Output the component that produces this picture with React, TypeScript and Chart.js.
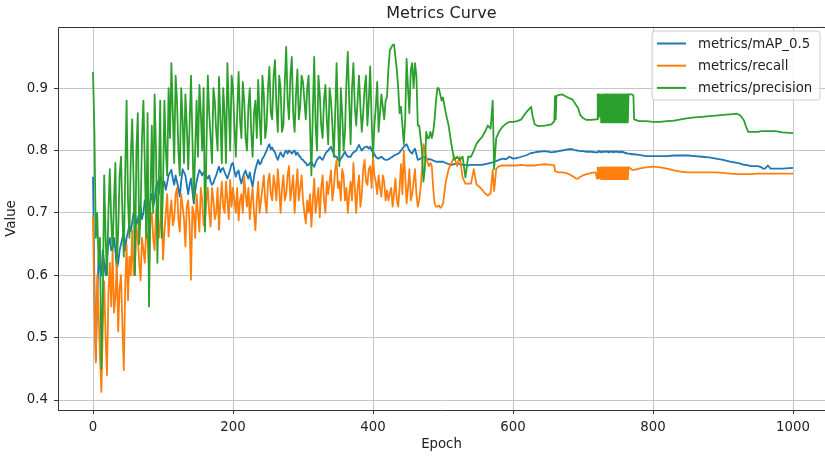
import React, { useEffect, useRef } from "react";
import { Chart, registerables } from "chart.js";

Chart.register(...registerables);

const TITLE = "Metrics Curve";
const X_LABEL = "Epoch";
const Y_LABEL = "Value";
const SERIES_NAMES = ["metrics/mAP_0.5", "metrics/recall", "metrics/precision"];
const COLORS = ["#1f77b4", "#ff7f0e", "#2ca02c"];
const X_TICKS = [0, 200, 400, 600, 800, 1000];
const Y_TICKS = [0.4, 0.5, 0.6, 0.7, 0.8, 0.9];

// Noisy phase: values at epochs 0,4,8,...,496 ("even") and 2,6,10,...,498 ("mid")
const NOISY_STEPS = 125;

const lateEpochs = [
  500, 504, 508, 512, 516, 520, 524, 528, 532, 536,
  540, 544, 548, 552, 556, 560, 564, 568, 571, 573,
  576, 580, 585, 590, 595, 600, 606, 612, 618, 622,
  626, 628, 631, 636, 646, 655, 659, 660, 661, 662,
  665, 670, 675, 680, 685, 690, 693, 696, 700, 705,
  712, 718,
];
const bandEpochs = [
  720, 721, 722, 723, 724, 725, 726, 727, 728, 729,
  730, 731, 732, 733, 734, 735, 736, 737, 738, 739,
  740, 741, 742, 743, 744, 745, 746, 747, 748, 749,
  750, 751, 752, 753, 754, 755, 756, 757, 758, 759,
  760, 761, 762, 763, 764, 765,
];
const tailEpochs = [
  766, 770, 772, 773, 780, 790, 800, 810, 820, 830,
  840, 850, 860, 870, 880, 890, 900, 910, 920, 925,
  930, 933, 936, 940, 950, 955, 957, 960, 964, 968,
  975, 985, 1000,
];

// ---------- metrics/mAP_0.5 ----------
const mapEven = [
  0.758, 0.464, 0.63, 0.6, 0.62, 0.63, 0.66, 0.645, 0.64, 0.62, 0.65, 0.67, 0.66, 0.68, 0.685, 0.7, 0.69, 0.71, 0.7, 0.72, 0.7, 0.73, 0.72, 0.75, 0.758,
  0.742, 0.737, 0.76, 0.769, 0.745, 0.75, 0.726, 0.77, 0.76, 0.73, 0.755, 0.715, 0.75, 0.769, 0.76, 0.765, 0.755, 0.75, 0.748, 0.76, 0.774, 0.77, 0.765, 0.755, 0.77,
  0.78, 0.758, 0.768, 0.747, 0.763, 0.76, 0.765, 0.742, 0.77, 0.785, 0.78, 0.79, 0.8, 0.81, 0.805, 0.797, 0.785, 0.797, 0.79, 0.8, 0.8, 0.795, 0.8, 0.797, 0.79,
  0.785, 0.78, 0.777, 0.782, 0.774, 0.785, 0.79, 0.785, 0.795, 0.8, 0.806, 0.795, 0.79, 0.783, 0.79, 0.798, 0.79, 0.79, 0.797, 0.8, 0.809, 0.8, 0.805, 0.806, 0.806,
  0.798, 0.79, 0.787, 0.79, 0.786, 0.785, 0.787, 0.79, 0.793, 0.795, 0.8, 0.806, 0.81, 0.8, 0.795, 0.803, 0.785, 0.787, 0.79, 0.787, 0.786, 0.785, 0.783, 0.782, 0.782,
];
const mapMid = [
  0.59, 0.56, 0.61, 0.64, 0.6, 0.65, 0.64, 0.66, 0.61, 0.64, 0.66, 0.64, 0.67, 0.67, 0.7, 0.68, 0.7, 0.69, 0.72, 0.7, 0.72, 0.71, 0.74, 0.73, 0.75,
  0.75, 0.748, 0.765, 0.755, 0.76, 0.74, 0.75, 0.765, 0.745, 0.745, 0.735, 0.735, 0.76, 0.765, 0.765, 0.758, 0.76, 0.745, 0.755, 0.768, 0.765, 0.772, 0.76, 0.762, 0.778,
  0.768, 0.765, 0.755, 0.757, 0.768, 0.755, 0.752, 0.758, 0.778, 0.778, 0.787, 0.795, 0.806, 0.802, 0.8, 0.79, 0.792, 0.792, 0.797, 0.795, 0.798, 0.798, 0.793, 0.792, 0.786,
  0.782, 0.776, 0.78, 0.777, 0.78, 0.788, 0.787, 0.79, 0.798, 0.803, 0.8, 0.79, 0.786, 0.787, 0.794, 0.793, 0.79, 0.794, 0.798, 0.805, 0.804, 0.803, 0.806, 0.803, 0.8,
  0.794, 0.788, 0.789, 0.788, 0.785, 0.786, 0.789, 0.792, 0.794, 0.797, 0.803, 0.808, 0.805, 0.797, 0.8, 0.794, 0.786, 0.789, 0.789, 0.786, 0.786, 0.784, 0.782, 0.782, 0.782,
];
const mapLate = [
  0.782, 0.78, 0.778, 0.777, 0.778, 0.779, 0.778, 0.777, 0.777, 0.776,
  0.777, 0.777, 0.777, 0.777, 0.777, 0.778, 0.779, 0.78, 0.781, 0.782,
  0.783, 0.785, 0.787, 0.786, 0.79, 0.787, 0.788, 0.79, 0.792, 0.794,
  0.796, 0.796, 0.797, 0.798, 0.799, 0.797, 0.798, 0.798, 0.798, 0.798,
  0.799, 0.8, 0.801, 0.802, 0.802, 0.8, 0.8, 0.799, 0.799, 0.798,
  0.798, 0.797,
];
const mapBand = [
  0.797, 0.798, 0.798, 0.799, 0.798, 0.798, 0.797, 0.798, 0.798, 0.799,
  0.798, 0.798, 0.798, 0.799, 0.798, 0.798, 0.798, 0.797, 0.798, 0.798,
  0.798, 0.799, 0.798, 0.798, 0.797, 0.798, 0.798, 0.799, 0.798, 0.798,
  0.798, 0.797, 0.798, 0.798, 0.797, 0.798, 0.798, 0.797, 0.797, 0.797,
  0.796, 0.796, 0.796, 0.795, 0.795, 0.795,
];
const mapTail = [
  0.795, 0.794, 0.794, 0.794, 0.793, 0.791, 0.791, 0.791, 0.791, 0.792,
  0.792, 0.792, 0.791, 0.79, 0.789, 0.787, 0.785, 0.782, 0.78, 0.779,
  0.777, 0.777, 0.776, 0.775, 0.775, 0.773, 0.771, 0.771, 0.776, 0.771,
  0.771, 0.771, 0.772,
];

// ---------- metrics/recall ----------
const recallEven = [
  0.694, 0.46, 0.54, 0.413, 0.59, 0.44, 0.62, 0.64, 0.565, 0.51, 0.6, 0.448, 0.65, 0.63, 0.672, 0.62, 0.66, 0.592, 0.64, 0.672, 0.61, 0.7, 0.64, 0.72, 0.68,
  0.625, 0.7, 0.662, 0.72, 0.69, 0.74, 0.67, 0.71, 0.646, 0.72, 0.593, 0.7, 0.73, 0.67, 0.72, 0.69, 0.74, 0.678, 0.72, 0.7, 0.673, 0.75, 0.7, 0.72, 0.753,
  0.74, 0.7, 0.688, 0.73, 0.758, 0.71, 0.69, 0.74, 0.672, 0.75, 0.72, 0.76, 0.7, 0.763, 0.72, 0.745, 0.77, 0.7, 0.76, 0.73, 0.775, 0.74, 0.7, 0.77, 0.74,
  0.72, 0.683, 0.7, 0.678, 0.755, 0.72, 0.693, 0.76, 0.7, 0.73, 0.768, 0.74, 0.785, 0.75, 0.77, 0.72, 0.7, 0.75, 0.78, 0.7, 0.76, 0.73, 0.785, 0.745, 0.775,
  0.79, 0.75, 0.76, 0.726, 0.75, 0.736, 0.731, 0.71, 0.755, 0.71, 0.778, 0.8, 0.715, 0.77, 0.73, 0.77, 0.71, 0.74, 0.81, 0.79, 0.775, 0.775, 0.715, 0.71, 0.708,
];
const recallMid = [
  0.55, 0.6, 0.47, 0.52, 0.5, 0.57, 0.55, 0.54, 0.62, 0.58, 0.52, 0.58, 0.56, 0.6, 0.6, 0.68, 0.62, 0.66, 0.62, 0.66, 0.69, 0.66, 0.7, 0.66, 0.73,
  0.67, 0.73, 0.7, 0.68, 0.73, 0.69, 0.73, 0.69, 0.71, 0.68, 0.71, 0.66, 0.7, 0.74, 0.68, 0.72, 0.7, 0.74, 0.69, 0.74, 0.72, 0.71, 0.75, 0.69, 0.71,
  0.72, 0.74, 0.72, 0.7, 0.73, 0.74, 0.72, 0.7, 0.72, 0.7, 0.74, 0.72, 0.75, 0.73, 0.76, 0.72, 0.74, 0.74, 0.72, 0.76, 0.72, 0.76, 0.74, 0.72, 0.76,
  0.7, 0.72, 0.73, 0.72, 0.7, 0.74, 0.74, 0.72, 0.75, 0.75, 0.72, 0.77, 0.74, 0.72, 0.76, 0.74, 0.73, 0.72, 0.74, 0.74, 0.71, 0.77, 0.75, 0.77, 0.74,
  0.76, 0.73, 0.74, 0.76, 0.72, 0.72, 0.74, 0.73, 0.72, 0.74, 0.73, 0.76, 0.74, 0.72, 0.75, 0.73, 0.72, 0.77, 0.8, 0.78, 0.78, 0.74, 0.71, 0.712, 0.71,
];
const recallLate = [
  0.715, 0.75, 0.77, 0.78, 0.79, 0.775, 0.79, 0.757, 0.747, 0.747,
  0.747, 0.77, 0.745, 0.742, 0.737, 0.731, 0.728, 0.731, 0.769, 0.735,
  0.77, 0.775, 0.776, 0.776, 0.776, 0.776, 0.776, 0.777, 0.776, 0.776,
  0.776, 0.776, 0.776, 0.777, 0.778, 0.777, 0.776, 0.767, 0.767, 0.766,
  0.765, 0.765, 0.764, 0.762, 0.759, 0.755, 0.755, 0.758, 0.76, 0.762,
  0.764, 0.765,
];
const recallBand = [
  0.755, 0.773, 0.755, 0.772, 0.756, 0.773, 0.754, 0.773, 0.754, 0.773,
  0.754, 0.773, 0.754, 0.773, 0.754, 0.773, 0.754, 0.773, 0.754, 0.773,
  0.754, 0.773, 0.754, 0.773, 0.754, 0.773, 0.754, 0.773, 0.754, 0.773,
  0.754, 0.773, 0.754, 0.773, 0.754, 0.773, 0.754, 0.773, 0.754, 0.773,
  0.754, 0.773, 0.754, 0.773, 0.754, 0.773,
];
const recallTail = [
  0.773, 0.769, 0.769, 0.769, 0.771, 0.773, 0.774, 0.773, 0.771, 0.768,
  0.766, 0.765, 0.765, 0.765, 0.765, 0.765, 0.764, 0.763, 0.762, 0.762,
  0.762, 0.762, 0.762, 0.762, 0.763, 0.763, 0.763, 0.763, 0.763, 0.763,
  0.763, 0.763, 0.763,
];

// ---------- metrics/precision ----------
const precisionEven = [
  0.926, 0.66, 0.62, 0.45, 0.76, 0.6, 0.77, 0.64, 0.78, 0.67, 0.79, 0.63, 0.88, 0.66, 0.85, 0.6, 0.86, 0.7, 0.88, 0.66, 0.55, 0.84, 0.89, 0.62, 0.88,
  0.74, 0.8, 0.9, 0.94, 0.78, 0.88, 0.76, 0.85, 0.89, 0.77, 0.92, 0.72, 0.88, 0.905, 0.8, 0.67, 0.92, 0.82, 0.9, 0.83, 0.918, 0.78, 0.86, 0.94, 0.8,
  0.9, 0.79, 0.926, 0.82, 0.88, 0.8, 0.9, 0.79, 0.88, 0.913, 0.81, 0.89, 0.84, 0.934, 0.85, 0.945, 0.83, 0.9, 0.84, 0.966, 0.85, 0.95, 0.83, 0.93, 0.87,
  0.91, 0.85, 0.92, 0.76, 0.95, 0.8, 0.89, 0.82, 0.905, 0.81, 0.88, 0.79, 0.94, 0.775, 0.86, 0.83, 0.958, 0.81, 0.94, 0.84, 0.92, 0.83, 0.9, 0.84, 0.935,
  0.79, 0.87, 0.83, 0.89, 0.85, 0.886, 0.96, 0.969, 0.95, 0.9, 0.87, 0.81, 0.947, 0.86, 0.94, 0.94, 0.84, 0.82, 0.75, 0.83, 0.82, 0.82, 0.85, 0.9, 0.89,
];
const precisionMid = [
  0.83, 0.7, 0.66, 0.56, 0.66, 0.7, 0.69, 0.72, 0.62, 0.76, 0.7, 0.76, 0.72, 0.79, 0.75, 0.8, 0.65, 0.82, 0.78, 0.86, 0.72, 0.7, 0.8, 0.75, 0.66,
  0.88, 0.76, 0.82, 0.86, 0.92, 0.8, 0.9, 0.78, 0.84, 0.84, 0.82, 0.8, 0.79, 0.86, 0.9, 0.8, 0.86, 0.78, 0.88, 0.8, 0.85, 0.9, 0.78, 0.87, 0.92,
  0.84, 0.86, 0.85, 0.91, 0.82, 0.87, 0.83, 0.86, 0.82, 0.85, 0.92, 0.82, 0.9, 0.86, 0.92, 0.87, 0.92, 0.83, 0.91, 0.88, 0.92, 0.86, 0.89, 0.85, 0.92,
  0.88, 0.9, 0.84, 0.86, 0.84, 0.92, 0.84, 0.88, 0.85, 0.9, 0.84, 0.86, 0.85, 0.9, 0.8, 0.91, 0.88, 0.9, 0.87, 0.88, 0.87, 0.86, 0.92, 0.88, 0.85,
  0.84, 0.91, 0.86, 0.87, 0.88, 0.93, 0.965, 0.97, 0.93, 0.86, 0.84, 0.85, 0.9, 0.93, 0.9, 0.92, 0.84, 0.8, 0.77, 0.82, 0.83, 0.83, 0.88, 0.9, 0.88,
];
const precisionLate = [
  0.885, 0.86, 0.84, 0.81, 0.785, 0.79, 0.785, 0.79, 0.757, 0.79,
  0.79, 0.8, 0.811, 0.817, 0.822, 0.83, 0.84, 0.835, 0.88, 0.77,
  0.82, 0.83, 0.838, 0.843, 0.846, 0.846, 0.847, 0.85, 0.86, 0.865,
  0.87, 0.855, 0.842, 0.839, 0.84, 0.842, 0.847, 0.887, 0.85, 0.887,
  0.889, 0.89, 0.887, 0.884, 0.882, 0.873, 0.868, 0.857, 0.852, 0.849,
  0.849, 0.85,
];
const precisionBand = [
  0.85, 0.89, 0.852, 0.89, 0.855, 0.889, 0.845, 0.89, 0.845, 0.89,
  0.845, 0.89, 0.845, 0.89, 0.845, 0.89, 0.845, 0.89, 0.845, 0.89,
  0.845, 0.89, 0.845, 0.89, 0.845, 0.89, 0.845, 0.89, 0.845, 0.89,
  0.845, 0.89, 0.845, 0.89, 0.845, 0.89, 0.845, 0.89, 0.845, 0.89,
  0.845, 0.89, 0.845, 0.89, 0.845, 0.89,
];
const precisionTail = [
  0.89, 0.89, 0.888, 0.85, 0.847, 0.847, 0.846, 0.846, 0.847, 0.848,
  0.85, 0.852, 0.853, 0.854, 0.855, 0.856, 0.857, 0.858, 0.859, 0.856,
  0.848, 0.838, 0.83, 0.83, 0.83, 0.831, 0.831, 0.831, 0.831, 0.831,
  0.831, 0.829, 0.828,
];

const FONT = '"DejaVu Sans", sans-serif';
const TEXT_COLOR = "#222222";

type Pt = { x: number; y: number };

function buildSeries(even: number[], mid: number[], late: number[], band: number[], tail: number[]): Pt[] {
  const pts: Pt[] = [];
  for (let k = 0; k < NOISY_STEPS; k++) {
    if (even[k] !== undefined) pts.push({ x: 4 * k, y: even[k] });
    if (mid[k] !== undefined) pts.push({ x: 4 * k + 2, y: mid[k] });
  }
  const add = (eps: number[], vals: number[]) => {
    for (let i = 0; i < eps.length && i < vals.length; i++) pts.push({ x: eps[i], y: vals[i] });
  };
  add(lateEpochs, late);
  add(bandEpochs, band);
  add(tailEpochs, tail);
  return pts;
}

const decorPlugin = {
  id: "decor",
  afterDraw(chart: any) {
    const { ctx, chartArea: a } = chart;
    ctx.save();
    ctx.strokeStyle = "#333333";
    ctx.lineWidth = 1;
    ctx.beginPath();
    ctx.moveTo(Math.round(a.left) + 0.5, Math.round(a.bottom) + 0.5);
    ctx.lineTo(Math.round(a.left) + 0.5, Math.round(a.top) + 0.5);
    ctx.lineTo(a.right, Math.round(a.top) + 0.5);
    ctx.moveTo(Math.round(a.left), Math.round(a.bottom) + 0.5);
    ctx.lineTo(a.right, Math.round(a.bottom) + 0.5);
    ctx.stroke();

    ctx.fillStyle = TEXT_COLOR;
    ctx.font = `16px ${FONT}`;
    ctx.textAlign = "center";
    ctx.textBaseline = "alphabetic";
    ctx.fillText(TITLE, (a.left + a.right) / 2, 18);

    const bx = 652, by = 31, bw = 168, bh = 69, r = 3;
    ctx.fillStyle = "rgba(255,255,255,0.8)";
    ctx.strokeStyle = "#cccccc";
    ctx.lineWidth = 1;
    ctx.beginPath();
    ctx.moveTo(bx + r, by);
    ctx.lineTo(bx + bw - r, by);
    ctx.arcTo(bx + bw, by, bx + bw, by + r, r);
    ctx.lineTo(bx + bw, by + bh - r);
    ctx.arcTo(bx + bw, by + bh, bx + bw - r, by + bh, r);
    ctx.lineTo(bx + r, by + bh);
    ctx.arcTo(bx, by + bh, bx, by + bh - r, r);
    ctx.lineTo(bx, by + r);
    ctx.arcTo(bx, by, bx + r, by, r);
    ctx.closePath();
    ctx.fill();
    ctx.stroke();

    ctx.font = `13.3px ${FONT}`;
    ctx.textAlign = "left";
    ctx.textBaseline = "middle";
    SERIES_NAMES.forEach((name, i) => {
      const y = 43.5 + i * 22.2;
      ctx.strokeStyle = COLORS[i];
      ctx.lineWidth = 2;
      ctx.beginPath();
      ctx.moveTo(657, y);
      ctx.lineTo(686, y);
      ctx.stroke();
      ctx.fillStyle = TEXT_COLOR;
      ctx.fillText(name, 698, y + 1);
    });
    ctx.restore();
  },
};

export default function App() {
  const canvasRef = useRef<HTMLCanvasElement | null>(null);

  useEffect(() => {
    const canvas = canvasRef.current;
    if (!canvas) return;
    const seriesPoints = [
      buildSeries(mapEven, mapMid, mapLate, mapBand, mapTail),
      buildSeries(recallEven, recallMid, recallLate, recallBand, recallTail),
      buildSeries(precisionEven, precisionMid, precisionLate, precisionBand, precisionTail),
    ];
    const datasets = SERIES_NAMES.map((name, i) => ({
      label: name,
      data: seriesPoints[i],
      borderColor: COLORS[i],
      backgroundColor: COLORS[i],
      borderWidth: 1.8,
      pointRadius: 0,
      tension: 0,
      fill: false,
      borderJoinStyle: "round" as const,
      order: 3 - i,
    }));

    const tickFont = { family: FONT, size: 13.3 };

    const chart = new Chart(canvas, {
      type: "line",
      data: { datasets },
      plugins: [decorPlugin],
      options: {
        animation: false,
        responsive: false,
        devicePixelRatio: 1,
        layout: { padding: { top: 27, left: 0, right: 0, bottom: 0 } },
        plugins: {
          legend: { display: false },
          title: { display: false },
          tooltip: { enabled: false },
        },
        scales: {
          x: {
            type: "linear",
            min: -50,
            max: 1045.7,
            afterBuildTicks: (s: any) => {
              s.ticks = X_TICKS.map((v) => ({ value: v }));
            },
            afterFit: (s: any) => {
              s.height = 47;
            },
            ticks: {
              autoSkip: false,
              maxRotation: 0,
              padding: 6,
              color: TEXT_COLOR,
              font: tickFont,
              callback: (v: any) => String(v),
            },
            grid: {
              color: "#c6c6c6",
              lineWidth: 1,
              tickLength: 4,
              tickColor: "#333333",
              drawTicks: true,
            },
            border: { display: false },
            title: {
              display: true,
              text: X_LABEL,
              color: TEXT_COLOR,
              font: tickFont,
              padding: { top: 0, bottom: 4 },
            },
          },
          y: {
            type: "linear",
            min: 0.384,
            max: 0.998,
            afterBuildTicks: (s: any) => {
              s.ticks = Y_TICKS.map((v) => ({ value: v }));
            },
            afterFit: (s: any) => {
              s.width = 58;
            },
            ticks: {
              padding: 6,
              color: TEXT_COLOR,
              font: tickFont,
              callback: (v: any) => Number(v).toFixed(1),
            },
            grid: {
              color: "#c6c6c6",
              lineWidth: 1,
              tickLength: 4,
              tickColor: "#333333",
              drawTicks: true,
            },
            border: { display: false },
            title: {
              display: true,
              text: Y_LABEL,
              color: TEXT_COLOR,
              font: tickFont,
              padding: { top: 4, bottom: 0 },
            },
          },
        },
      },
    });
    return () => chart.destroy();
  }, []);

  return (
    <div style={{ position: "absolute", left: 0, top: 0, width: 825, height: 457, background: "#ffffff" }}>
      <canvas ref={canvasRef} width={825} height={457} style={{ display: "block" }} />
    </div>
  );
}
